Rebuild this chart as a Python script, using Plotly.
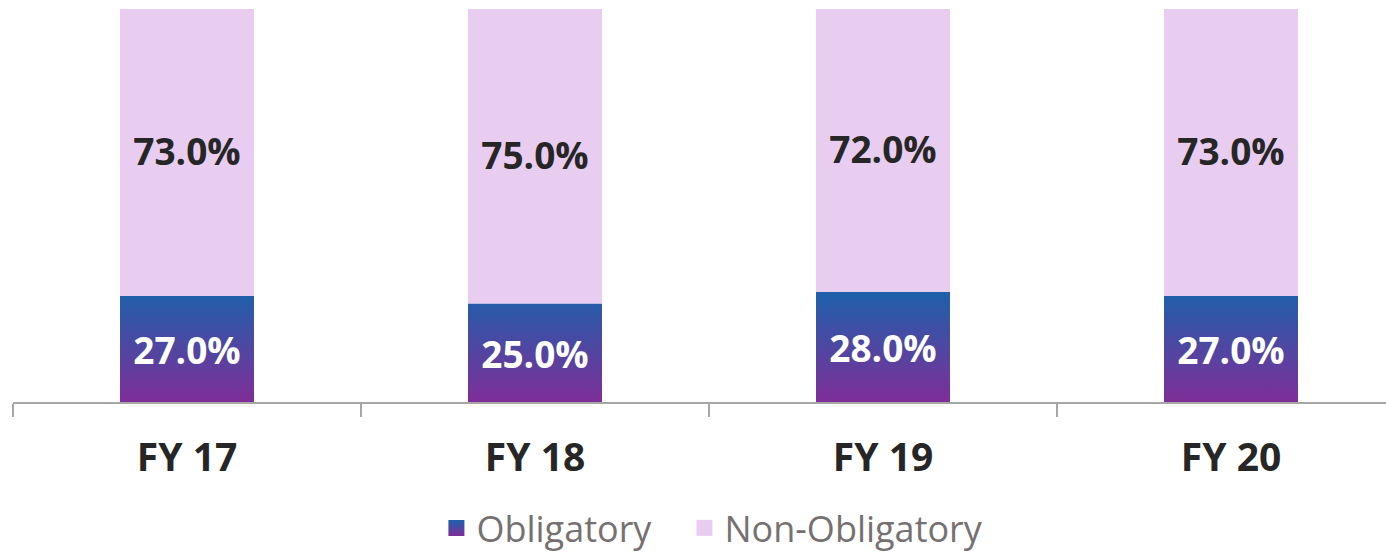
import plotly.graph_objects as go

categories = ["FY 17", "FY 18", "FY 19", "FY 20"]
obligatory = [27.0, 25.0, 28.0, 27.0]
non_obligatory = [73.0, 75.0, 72.0, 73.0]

FONT = "Open Sans"
BAR_W = 0.385
LABEL_NUDGE = 1.5  # y-units the labels sit below segment centre
xs = list(range(len(categories)))

# polygon outlines for gradient-filled bars (from the data values)
px, py = [], []
for x, v in zip(xs, obligatory):
    px += [x - BAR_W / 2, x + BAR_W / 2, x + BAR_W / 2, x - BAR_W / 2, x - BAR_W / 2, None]
    py += [0, 0, v, v, 0, None]

fig = go.Figure()
fig.add_trace(go.Scatter(
    x=px, y=py, mode="none", fill="toself", name="Obligatory", showlegend=False,
    fillcolor="#4E47A0",
    fillgradient=dict(type="vertical", colorscale=[[0, "#7F2E98"], [1, "#1D60AB"]]),
    hoverinfo="skip",
))
fig.add_trace(go.Bar(
    x=xs, y=non_obligatory, base=obligatory, width=BAR_W, name="Non-Obligatory",
    showlegend=False,
    marker=dict(color="#E8CDF1", line=dict(width=0)),
    hoverinfo="skip",
))
fig.add_trace(go.Scatter(
    x=xs, y=[b + v / 2 - LABEL_NUDGE * 0.6 for b, v in zip(obligatory, non_obligatory)],
    mode="text", showlegend=False,
    text=[f"{v:.1f}%" for v in non_obligatory],
    textfont=dict(family=FONT, size=37, color="#262626", weight="bold"),
    hoverinfo="skip",
))
fig.add_trace(go.Scatter(
    x=xs, y=[v / 2 - LABEL_NUDGE for v in obligatory], mode="text", showlegend=False,
    text=[f"{v:.1f}%" for v in obligatory],
    textfont=dict(family=FONT, size=37, color="#FFFFFF", weight="bold"),
    hoverinfo="skip",
))
# legend entries
fig.add_trace(go.Scatter(
    x=[None], y=[None], mode="markers", name="Obligatory\u00a0\u00a0\u00a0",
    marker=dict(symbol="square", size=19, color="#1D60AB",
                gradient=dict(type="vertical", color="#7F2E98")),
))
fig.add_trace(go.Scatter(
    x=[None], y=[None], mode="markers", name="Non-Obligatory",
    marker=dict(symbol="square", size=19, color="#E8CDF1"),
))

fig.update_layout(
    width=1386, height=552,
    margin=dict(l=13, r=0, t=9, b=150),
    plot_bgcolor="white", paper_bgcolor="white",
    barmode="overlay",
    showlegend=True,
    legend=dict(orientation="h", xref="container", yref="container",
                x=0.514, xanchor="center", y=24 / 552, yanchor="middle",
                font=dict(family=FONT, size=36, color="#767171"),
                itemsizing="trace", tracegroupgap=0),
    font=dict(family=FONT),
)
fig.update_xaxes(
    range=[-0.5, 3.5 - 19 / 348],
    tickvals=xs, ticktext=categories, ticks="",
    tickfont=dict(family=FONT, size=39, color="#262626", weight="bold"),
    ticklabelstandoff=20,
    showline=True, linecolor="#A6A6A6", linewidth=2,
    showgrid=False, zeroline=False,
    minor=dict(tickvals=[-0.5, 0.5, 1.5, 2.5], ticks="outside", ticklen=13,
               tickcolor="#A6A6A6", tickwidth=2, showgrid=False),
)
fig.update_yaxes(range=[0, 100], visible=False, showgrid=False, zeroline=False)

fig.write_html("out.html")
